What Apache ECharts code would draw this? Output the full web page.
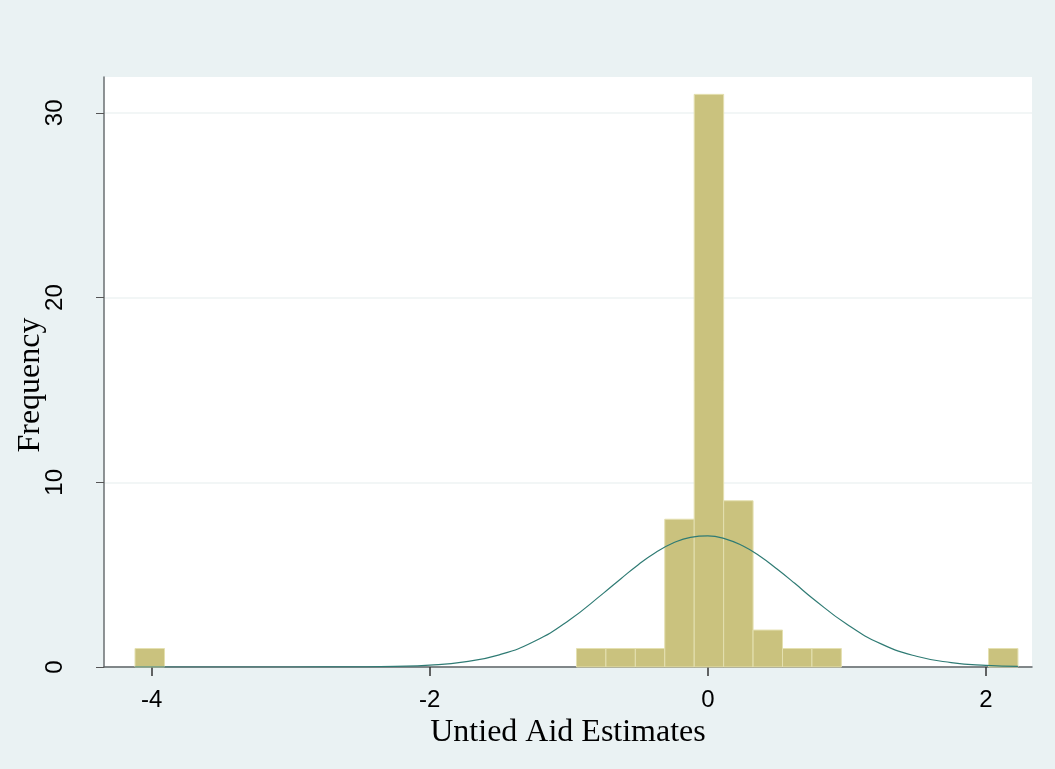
<!DOCTYPE html>
<html>
<head>
<meta charset="utf-8">
<script src="https://cdn.jsdelivr.net/npm/echarts@6/dist/echarts.min.js"></script>
<style>
html,body{margin:0;padding:0;background:#EAF2F3;}
#chart{width:1055px;height:769px;}
</style>
</head>
<body>
<div id="chart"></div>
<script>
// Histogram bins (non-empty)
const binLow  = [-4.119, -0.9445, -0.7329, -0.5212, -0.3096, -0.0980, 0.1137, 0.3253, 0.5369, 0.7486, 2.0183];
const binHigh = [-3.907, -0.7329, -0.5212, -0.3096, -0.0980, 0.1137, 0.3253, 0.5369, 0.7486, 0.9602, 2.2299];
const frequency = [1, 1, 1, 1, 8, 31, 9, 2, 1, 1, 1];

// Normal density overlay
const curveX = [-4.119, -3.5, -3, -2.5, -2.25, -2, -1.75, -1.5, -1.25, -1, -0.75, -0.625, -0.5, -0.375, -0.25, -0.125, 0, 0.125, 0.25, 0.375, 0.5, 0.625, 0.75, 1, 1.25, 1.5, 1.75, 2, 2.23];
const curveY = [0, 0, 0.0005, 0.009, 0.033, 0.10, 0.28, 0.66, 1.38, 2.52, 4.00, 4.78, 5.54, 6.20, 6.71, 7.02, 7.10, 6.94, 6.56, 6.00, 5.29, 4.53, 3.74, 2.31, 1.24, 0.58, 0.24, 0.086, 0.03];

// Tick labels
const xTicks = [-4, -2, 0, 2];
const yTicks = [0, 10, 20, 30];

const chart = echarts.init(document.getElementById('chart'), null, {renderer: 'canvas'});

const barData = binLow.map((lo, i) => [lo, binHigh[i], frequency[i]]);
const curveData = curveX.map((x, i) => [x, curveY[i]]);

const sans = 'Liberation Sans, Arial, sans-serif';
const serif = 'Liberation Serif, Times New Roman, serif';

chart.setOption({
  backgroundColor: '#EAF2F3',
  animation: false,
  grid: {
    left: 104, right: 23, top: 77, bottom: 102,
    containLabel: false,
    outerBoundsMode: 'none',
    show: true, backgroundColor: '#ffffff', borderWidth: 0
  },
  xAxis: {
    type: 'value',
    min: -4.342, max: 2.331,
    name: 'Untied Aid Estimates',
    nameLocation: 'middle',
    nameGap: 50,
    nameMoveOverlap: false,
    nameTextStyle: {fontFamily: serif, fontSize: 32, color: '#000'},
    axisLine: {show: true, onZero: false, lineStyle: {color: '#5c6366', width: 1.5}},
    axisTick: {show: true, length: 9, customValues: xTicks, lineStyle: {color: '#333', width: 1.5}},
    axisLabel: {customValues: xTicks, fontFamily: sans, fontSize: 24, color: '#000', margin: 21},
    splitLine: {show: false}
  },
  yAxis: {
    type: 'value',
    min: 0, max: 31.94,
    interval: 10,
    name: 'Frequency',
    nameLocation: 'middle',
    nameGap: 57,
    nameRotate: 90,
    nameMoveOverlap: false,
    nameTextStyle: {fontFamily: serif, fontSize: 32, color: '#000', padding: [0, 26, 0, 0]},
    axisLine: {show: true, onZero: false, lineStyle: {color: '#6a6f72', width: 1.5}},
    axisTick: {show: true, length: 8, customValues: yTicks, lineStyle: {color: '#555', width: 1}},
    axisLabel: {customValues: yTicks, rotate: 90, fontFamily: sans, fontSize: 24, color: '#000', margin: 37},
    splitLine: {show: true, lineStyle: {color: '#eef3f3', width: 1.5}}
  },
  series: [
    {
      type: 'custom',
      data: barData,
      encode: {x: [0, 1], y: 2},
      renderItem: function (params, api) {
        const p0 = api.coord([api.value(0), 0]);
        const p1 = api.coord([api.value(1), api.value(2)]);
        return {
          type: 'rect',
          shape: {x: p0[0], y: p1[1], width: p1[0] - p0[0], height: p0[1] - p1[1]},
          style: {fill: '#CAC27E', stroke: '#E4E0B0', lineWidth: 1}
        };
      },
      z: 2
    },
    {
      type: 'line',
      data: curveData,
      smooth: true,
      showSymbol: false,
      lineStyle: {color: '#2f7b74', width: 1.2},
      z: 3
    }
  ]
});
</script>
</body>
</html>
